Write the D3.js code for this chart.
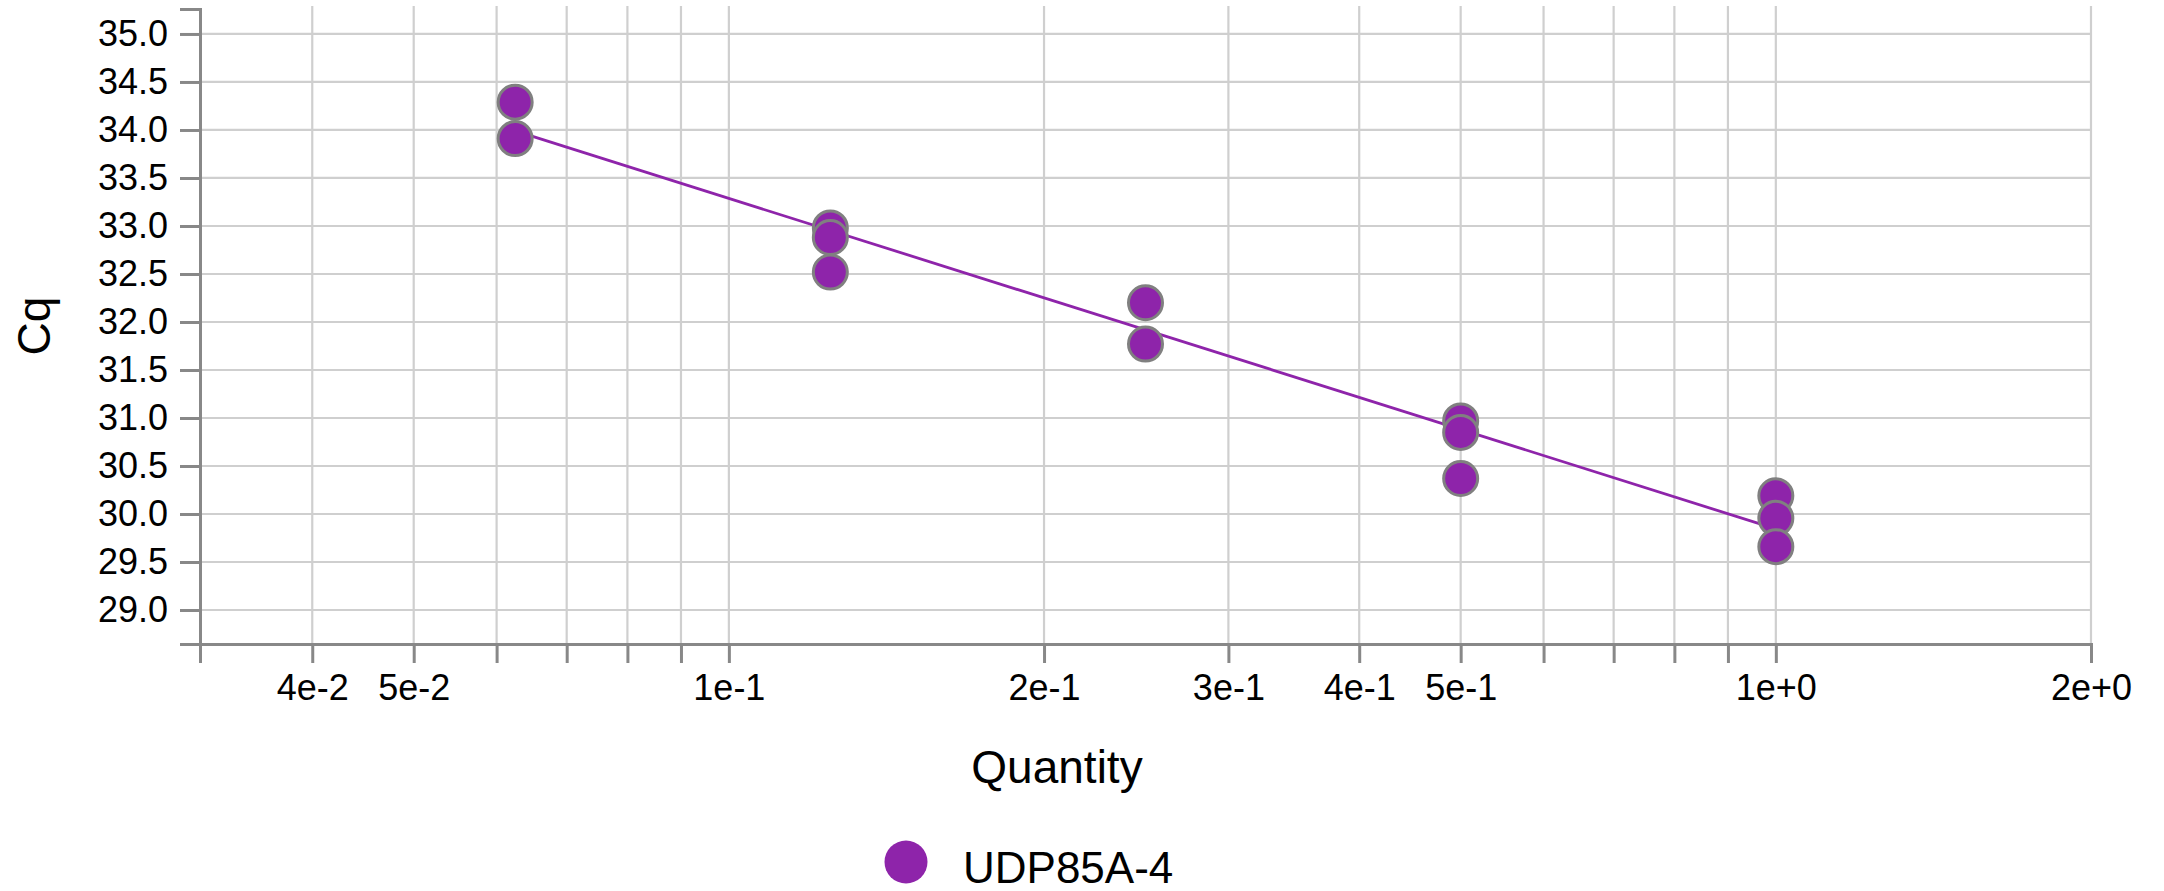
<!DOCTYPE html>
<html>
<head>
<meta charset="utf-8">
<script src="https://cdn.jsdelivr.net/npm/d3@7"></script>
<style>
  html, body { margin: 0; padding: 0; background: #fff; }
  svg { display: block; font-family: "Liberation Sans", Arial, sans-serif; }
</style>
</head>
<body>
<svg id="chart" width="2164" height="891"></svg>
<script>
// ---- data ----
const seriesName = "UDP85A-4";
const quantities = [0.0625, 0.0625, 0.125, 0.125, 0.125, 0.25, 0.25, 0.5, 0.5, 0.5, 1, 1, 1];
const cqValues   = [34.29, 33.91, 32.98, 32.88, 32.52, 32.20, 31.77, 30.97, 30.85, 30.37, 30.19, 29.955, 29.66];
const fitQuantity = [0.0625, 1];
const fitCq       = [33.99, 29.845];
const xDomain = [0.03125, 2];
const yDomain = [28.646, 35.26];
const xTickValues = [0.04, 0.05, 0.06, 0.07, 0.08, 0.09, 0.1, 0.2, 0.3, 0.4, 0.5, 0.6, 0.7, 0.8, 0.9, 1, 2];
const xTickLabels = ["4e-2", "5e-2", "", "", "", "", "1e-1", "2e-1", "3e-1", "4e-1", "5e-1", "", "", "", "", "1e+0", "2e+0"];
const yTickValues = [29.0, 29.5, 30.0, 30.5, 31.0, 31.5, 32.0, 32.5, 33.0, 33.5, 34.0, 34.5, 35.0];
const xTitle = "Quantity";
const yTitle = "Cq";

(function () {
// ---- styles ----
const purple = "#8e24aa";
const plotLeft = 200, plotRight = 2091, plotTop = 9, plotBottom = 644;

const svg = d3.select("#chart");
svg.append("rect").attr("width", 2164).attr("height", 891).attr("fill", "#fff");

const x = d3.scaleLog().domain(xDomain).range([plotLeft, plotRight]);
const y = d3.scaleLinear().domain(yDomain).range([plotBottom, plotTop]);

// grid
const grid = svg.append("g").attr("stroke", "#cfcfcf").attr("stroke-width", 2.2);
grid.selectAll("line.v").data(xTickValues).join("line").attr("class", "v")
  .attr("x1", d => x(d)).attr("x2", d => x(d))
  .attr("y1", plotTop - 3).attr("y2", plotBottom);
grid.selectAll("line.h").data(yTickValues).join("line").attr("class", "h")
  .attr("x1", plotLeft).attr("x2", plotRight)
  .attr("y1", d => y(d)).attr("y2", d => y(d));

// axes
const labelMap = new Map(xTickValues.map((v, i) => [v, xTickLabels[i]]));
const xAxis = d3.axisBottom(x).tickValues(xTickValues)
  .tickFormat(d => labelMap.get(d)).tickSize(19).tickPadding(11);
const yAxis = d3.axisLeft(y).tickValues(yTickValues)
  .tickFormat(d3.format(".1f")).tickSize(20).tickPadding(12);

function styleAxis(g) {
  g.select(".domain").attr("stroke", "#888").attr("stroke-width", 3);
  g.selectAll(".tick line").attr("stroke", "#888").attr("stroke-width", 3);
  g.selectAll(".tick text").attr("fill", "#000").attr("font-size", 36)
    .attr("font-family", "'Liberation Sans', Arial, sans-serif");
}
svg.append("g").attr("transform", `translate(0,${plotBottom})`).call(xAxis).call(styleAxis);
svg.append("g").attr("transform", `translate(${plotLeft},0)`).call(yAxis).call(styleAxis);

// fit line
const fitData = fitQuantity.map((q, i) => ({ q, c: fitCq[i] }));
svg.append("path").datum(fitData)
  .attr("fill", "none").attr("stroke", purple).attr("stroke-width", 2.8)
  .attr("d", d3.line().x(d => x(d.q)).y(d => y(d.c)));

// points
const pts = quantities.map((q, i) => ({ q, c: cqValues[i] }));
svg.append("g").selectAll("circle").data(pts).join("circle")
  .attr("cx", d => x(d.q)).attr("cy", d => y(d.c)).attr("r", 17)
  .attr("fill", purple).attr("stroke", "#808080").attr("stroke-width", 3);

// titles
svg.append("text").attr("x", 1057).attr("y", 783).attr("text-anchor", "middle")
  .attr("font-size", 46).attr("fill", "#000").text(xTitle);
svg.append("text").attr("transform", "translate(50,326) rotate(-90)")
  .attr("text-anchor", "middle").attr("font-size", 46).attr("fill", "#000").text(yTitle);

// legend
const legend = svg.append("g");
legend.append("circle").attr("cx", 906).attr("cy", 862).attr("r", 21.5).attr("fill", purple);
legend.append("text").attr("x", 963).attr("y", 883).attr("font-size", 44)
  .attr("fill", "#000").text(seriesName);
})();
</script>
</body>
</html>
